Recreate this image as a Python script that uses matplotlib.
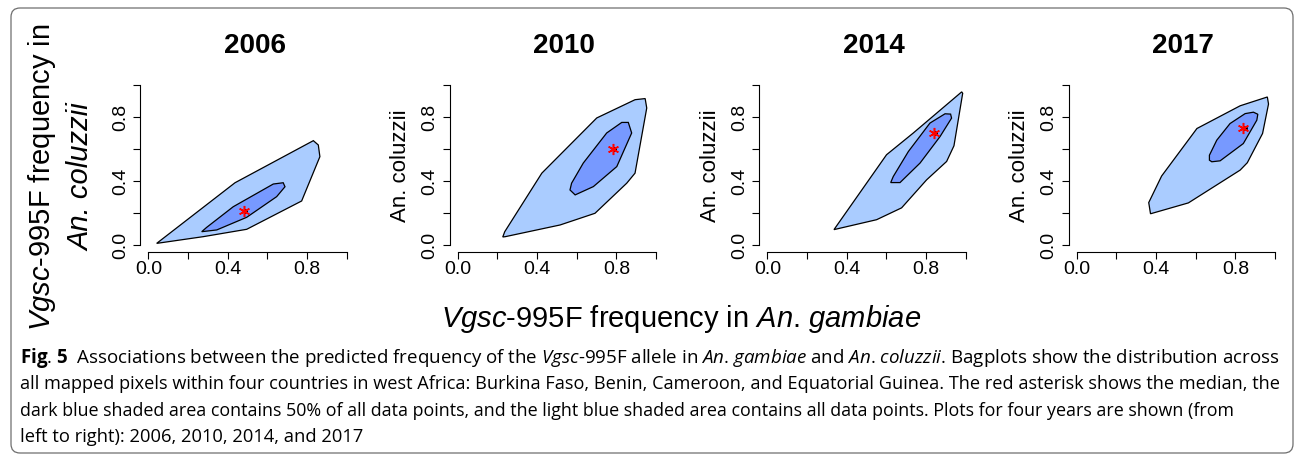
import matplotlib
matplotlib.use("Agg")
import numpy as np
import matplotlib.pyplot as plt
from matplotlib.patches import Polygon, FancyBboxPatch

plt.rcParams["font.family"] = ["Liberation Sans", "DejaVu Sans"]
plt.rcParams["mathtext.fontset"] = "custom"
plt.rcParams["mathtext.rm"] = "Open Sans"
plt.rcParams["mathtext.it"] = "Open Sans:italic"
plt.rcParams["mathtext.bf"] = "Open Sans:bold"
plt.rcParams["mathtext.sf"] = "Liberation Sans:italic"

years = ["2006", "2010", "2014", "2017"]

# loop hull (all points)
outer_x = [
    [0.042, 0.437, 0.832, 0.857, 0.865, 0.773, 0.496, 0.277],
    [0.227, 0.237, 0.424, 0.701, 0.894, 0.945, 0.953, 0.894, 0.852, 0.692, 0.516, 0.240],
    [0.336, 0.601, 0.736, 0.980, 0.985, 0.941, 0.904, 0.803, 0.677, 0.551],
    [0.372, 0.363, 0.428, 0.606, 0.824, 0.961, 0.967, 0.937, 0.860, 0.824, 0.563],
]
outer_y = [
    [0.012, 0.391, 0.654, 0.627, 0.554, 0.277, 0.100, 0.054],
    [0.052, 0.085, 0.451, 0.796, 0.910, 0.917, 0.858, 0.451, 0.388, 0.200, 0.127, 0.054],
    [0.098, 0.566, 0.702, 0.959, 0.950, 0.622, 0.524, 0.409, 0.234, 0.160],
    [0.197, 0.267, 0.433, 0.730, 0.872, 0.927, 0.883, 0.699, 0.516, 0.470, 0.265],
]

# bag (50% of points)
inner_x = [
    [0.269, 0.294, 0.428, 0.630, 0.680, 0.689, 0.647, 0.496, 0.345],
    [0.566, 0.592, 0.684, 0.802, 0.877, 0.860, 0.827, 0.751, 0.633, 0.574],
    [0.622, 0.669, 0.770, 0.871, 0.929, 0.924, 0.896, 0.820, 0.711, 0.635],
    [0.669, 0.681, 0.723, 0.840, 0.908, 0.913, 0.891, 0.849, 0.773, 0.706, 0.669],
]
inner_y = [
    [0.085, 0.112, 0.241, 0.383, 0.391, 0.366, 0.304, 0.175, 0.096],
    [0.346, 0.315, 0.367, 0.492, 0.702, 0.768, 0.768, 0.702, 0.514, 0.388],
    [0.392, 0.392, 0.514, 0.680, 0.795, 0.820, 0.822, 0.764, 0.586, 0.430],
    [0.532, 0.522, 0.528, 0.636, 0.782, 0.819, 0.832, 0.823, 0.761, 0.657, 0.563],
]

median_x = [0.480, 0.782, 0.840, 0.840]
median_y = [0.214, 0.601, 0.705, 0.734]

tick_vals = [0.0, 0.2, 0.4, 0.6, 0.8, 1.0]
tick_labels = ["0.0", "", "0.4", "", "0.8", ""]

caption = [
    r"$\mathbf{Fig}$. $\mathbf{5}$  Associations between the predicted frequency of the $\mathit{Vgsc}$-995F allele in "
    r"$\mathit{An}$. $\mathit{gambiae}$ and $\mathit{An}$. $\mathit{coluzzii}$. Bagplots show the distribution across",
    "all mapped pixels within four countries in west Africa: Burkina Faso, Benin, Cameroon, and Equatorial "
    "Guinea. The red asterisk shows the median, the",
    "dark blue shaded area contains 50% of all data points, and the light blue shaded area contains all "
    "data points. Plots for four years are shown (from",
    "left to right): 2006, 2010, 2014, and 2017",
]
# right end of each caption line in the reference (px)
caption_end = [1277, 1277, 1233, 362]

W, H = 1295, 457
fig = plt.figure(figsize=(W / 100, H / 100), dpi=100)

# rounded frame around figure + caption
frame = FancyBboxPatch((0.11, 0.04), 12.82, 4.45, boxstyle="round,pad=0,rounding_size=0.09",
                       transform=fig.dpi_scale_trans, fc="none", ec="#6e6e6e", lw=0.9)
fig.patches.append(frame)

lefts = [140.4, 449.8, 759.4, 1068.8]
for i, yr in enumerate(years):
    ax = fig.add_axes([lefts[i] / W, 205.3 / H, 214.2 / W, 172.8 / H])
    ax.add_patch(Polygon(np.column_stack([outer_x[i], outer_y[i]]), closed=True,
                         fc="#aaccff", ec="black", lw=0.9))
    ax.add_patch(Polygon(np.column_stack([inner_x[i], inner_y[i]]), closed=True,
                         fc="#7799ff", ec="black", lw=0.9))
    ax.plot(median_x[i] + 0.006, median_y[i], "o", color="black", ms=2.5)
    ax.plot(median_x[i], median_y[i], marker=(6, 2, 0), color="red", ms=8, mew=1.1)

    ax.set_xlim(-0.04, 1.04)
    ax.set_ylim(-0.04, 1.04)
    ax.spines["top"].set_visible(False)
    ax.spines["right"].set_visible(False)
    ax.spines["left"].set_bounds(0, 1)
    ax.spines["bottom"].set_bounds(0, 1)
    for s in ("left", "bottom"):
        ax.spines[s].set_linewidth(0.8)

    ax.set_xticks(tick_vals)
    ax.set_xticklabels(tick_labels)
    ax.set_yticks(tick_vals)
    ax.set_yticklabels(tick_labels, rotation=90, va="center")
    ax.tick_params(length=5, width=0.8, labelsize=14)
    ax.tick_params(axis="x", pad=1.5)
    ax.tick_params(axis="y", pad=3)

    ax.text(0.535, 1.148, yr, transform=ax.transAxes, ha="center", va="baseline",
            fontsize=20, fontweight="bold")
    if i > 0:
        ax.set_ylabel("An. coluzzii", fontsize=16)
        ax.yaxis.set_label_coords(-0.179, 0.5)

# shared axis titles
fig.text(681.5 / W, 1 - 327.3 / H, r"$\mathsf{Vgsc}$-995F frequency in $\mathsf{An}$. $\mathsf{gambiae}$",
         ha="center", va="baseline", fontsize=21)
fig.text(50 / W, 1 - 177 / H, r"$\mathsf{Vgsc}$-995F frequency in", rotation=90,
         rotation_mode="anchor", ha="center", va="baseline", fontsize=21)
fig.text(89 / W, 1 - 177 / H, "An. coluzzii", rotation=90, style="italic",
         rotation_mode="anchor", ha="center", va="baseline", fontsize=21)

# caption, each line sized so that it ends where the reference line ends
renderer = fig.canvas.get_renderer()
for k, line in enumerate(caption):
    t = fig.text(20 / W, 1 - (363 + 26.3 * k) / H, line, ha="left", va="baseline",
                 fontsize=13, family=["Open Sans", "DejaVu Sans"])
    bb = t.get_window_extent(renderer)
    t.set_fontsize(13 * (caption_end[k] - bb.x0) / bb.width)

fig.savefig("out.png", dpi=100, facecolor="white")
